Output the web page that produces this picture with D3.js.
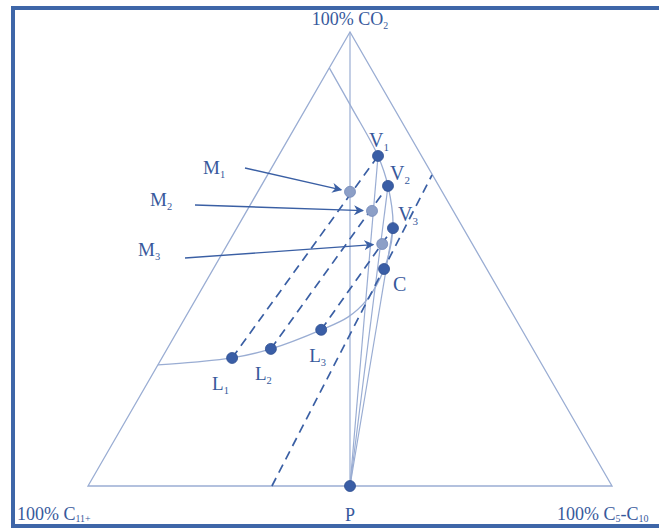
<!DOCTYPE html>
<html>
<head>
<meta charset="utf-8">
<script src="https://cdn.jsdelivr.net/npm/d3@7"></script>
<style>
  body { margin: 0; background: #fff; }
  svg { display: block; font-family: "Liberation Serif", "DejaVu Serif", serif; }
</style>
</head>
<body>
<svg id="chart" width="659" height="531"></svg>
<script>
// compositions as [CO2 fraction, C5-C10 fraction] (C11+ is the rest)
const vertexLabels = ["100% CO", "100% C", "100% C"];
const vapour = [
    { name: "V", sub: "1", co2: 0.727, c5: 0.19 },
    { name: "V", sub: "2", co2: 0.661, c5: 0.242 },
    { name: "V", sub: "3", co2: 0.568, c5: 0.298 },
];
const liquid = [
    { name: "L", sub: "1", co2: 0.282, c5: 0.134 },
    { name: "L", sub: "2", co2: 0.302, c5: 0.198 },
    { name: "L", sub: "3", co2: 0.344, c5: 0.273 },
];
const mixes = [
    { name: "M", sub: "1", co2: 0.648, c5: 0.176 },
    { name: "M", sub: "2", co2: 0.606, c5: 0.239 },
    { name: "M", sub: "3", co2: 0.533, c5: 0.295 },
];
const critical = { name: "C", co2: 0.478, c5: 0.326 };
const oil = { name: "P", co2: 0, c5: 0.5 };
// binodal envelope, from the C11+ edge round to the CO2 edge
const envelope = [
    [0.267, 0], [0.273, 0.067], [0.282, 0.134], [0.302, 0.198], [0.344, 0.273],
    [0.372, 0.31], [0.41, 0.327], [0.478, 0.326], [0.568, 0.298],
    [0.661, 0.242], [0.727, 0.19], [0.833, 0.087], [0.921, 0],
];
// limiting tie line through the critical point
const tangent = [[0, 0.351], [0.685, 0.314]];

const svg = d3.select("#chart");
const blue = "#3a5fa4";
const pale = "#9aadd3";
const textCol = "#37599c";

const xScale = d3.scaleLinear().domain([0, 1]).range([88, 612]);
const yScale = d3.scaleLinear().domain([0, 1]).range([486, 32]);
const project = (co2, c5) => [xScale(c5 + co2 / 2), yScale(co2)];
const pt = (d) => project(d.co2, d.c5);

svg.append("defs")
    .append("marker")
    .attr("id", "arrow")
    .attr("viewBox", "0 0 10 10")
    .attr("refX", 9)
    .attr("refY", 5)
    .attr("markerWidth", 10)
    .attr("markerHeight", 10)
    .attr("markerUnits", "userSpaceOnUse")
    .attr("orient", "auto")
    .append("path")
    .attr("d", "M0,0 L10,5 L0,10 L3,5 Z")
    .attr("fill", blue);

// frame
svg.append("rect")
    .attr("x", 13)
    .attr("y", 8)
    .attr("width", 700)
    .attr("height", 518)
    .attr("fill", "none")
    .attr("stroke", "#3e66a8")
    .attr("stroke-width", 4);

const line = d3.line();

// triangle
svg.append("path")
    .attr("d", line([project(1, 0), project(0, 0), project(0, 1)]) + "Z")
    .attr("fill", "none")
    .attr("stroke", pale)
    .attr("stroke-width", 1.3);

// CO2 to P line
svg.append("path")
    .attr("d", line([project(1, 0), pt(oil)]))
    .attr("stroke", pale)
    .attr("stroke-width", 1.2);

// P to vapour points
svg.append("g")
    .selectAll("path")
    .data(vapour)
    .join("path")
    .attr("d", (d) => line([pt(oil), pt(d)]))
    .attr("stroke", pale)
    .attr("stroke-width", 1.2);

// envelope
svg.append("path")
    .attr("d", d3.line().curve(d3.curveCatmullRom.alpha(0.5))(envelope.map((e) => project(e[0], e[1]))))
    .attr("fill", "none")
    .attr("stroke", pale)
    .attr("stroke-width", 1.3);

// tie lines
svg.append("g")
    .selectAll("path")
    .data(d3.zip(liquid, vapour))
    .join("path")
    .attr("d", ([l, v]) => line([pt(l), pt(v)]))
    .attr("stroke", blue)
    .attr("stroke-width", 1.7)
    .attr("stroke-dasharray", "9,6");

svg.append("path")
    .attr("d", line(tangent.map((t) => project(t[0], t[1]))))
    .attr("stroke", blue)
    .attr("stroke-width", 1.7)
    .attr("stroke-dasharray", "9,6");

// arrows to mixes
const arrowFrom = [[245, 168], [195, 205], [185, 258]];
svg.append("g")
    .selectAll("path")
    .data(mixes)
    .join("path")
    .attr("d", (d, i) => {
        const [x, y] = pt(d);
        const [x0, y0] = arrowFrom[i];
        const len = Math.hypot(x - x0, y - y0);
        const k = (len - 9) / len;
        return line([[x0, y0], [x0 + (x - x0) * k, y0 + (y - y0) * k]]);
    })
    .attr("stroke", blue)
    .attr("stroke-width", 1.4)
    .attr("marker-end", "url(#arrow)");

// points
svg.append("g")
    .selectAll("circle")
    .data([...vapour, ...liquid, critical, oil])
    .join("circle")
    .attr("cx", (d) => pt(d)[0])
    .attr("cy", (d) => pt(d)[1])
    .attr("r", 5.5)
    .attr("fill", "#3a5ea6")
    .attr("stroke", "#2f4f90")
    .attr("stroke-width", 0.8);

svg.append("g")
    .selectAll("circle")
    .data(mixes)
    .join("circle")
    .attr("cx", (d) => pt(d)[0])
    .attr("cy", (d) => pt(d)[1])
    .attr("r", 5.5)
    .attr("fill", "#8c9fc7")
    .attr("stroke", "#7288b8")
    .attr("stroke-width", 0.8);

// labels
const addLabel = (x, y, main, sub, size, anchor, subDrop) => {
    const t = svg.append("text")
        .attr("x", x)
        .attr("y", y)
        .attr("fill", textCol)
        .attr("font-size", size)
        .attr("text-anchor", anchor || "start")
        .text(main);
    if (sub) {
        t.append("tspan")
            .attr("font-size", size * 0.55)
            .attr("dy", subDrop != null ? subDrop : size * 0.2)
            .text(sub);
    }
    return t;
};

const vOff = [[-9, -9], [2, -6], [5, -7]];
vapour.forEach((d, i) => {
    const [x, y] = pt(d);
    addLabel(x + vOff[i][0], y + vOff[i][1], d.name, d.sub, 20);
});
const lOff = [[-20, 32], [-16, 31], [-12, 32]];
liquid.forEach((d, i) => {
    const [x, y] = pt(d);
    addLabel(x + lOff[i][0], y + lOff[i][1], d.name, d.sub, 19);
});
const mPos = [[203, 174], [150, 206], [138, 256]];
mixes.forEach((d, i) => addLabel(mPos[i][0], mPos[i][1], d.name, d.sub, 19));
{
    const [x, y] = pt(critical);
    addLabel(x + 9, y + 22, critical.name, null, 20);
    const [px, py] = pt(oil);
    addLabel(px, py + 35, oil.name, null, 18, "middle");
}

// vertex labels
addLabel(350, 25, vertexLabels[0], "2", 18, "middle");
addLabel(17, 520, vertexLabels[1], "11+", 18, "start", 2);
const rt = addLabel(557, 520, vertexLabels[2], "5", 18, "start", 2);
rt.append("tspan").attr("dy", -2).text("-C");
rt.append("tspan").attr("font-size", 10).attr("dy", 2).text("10");
</script>
</body>
</html>
